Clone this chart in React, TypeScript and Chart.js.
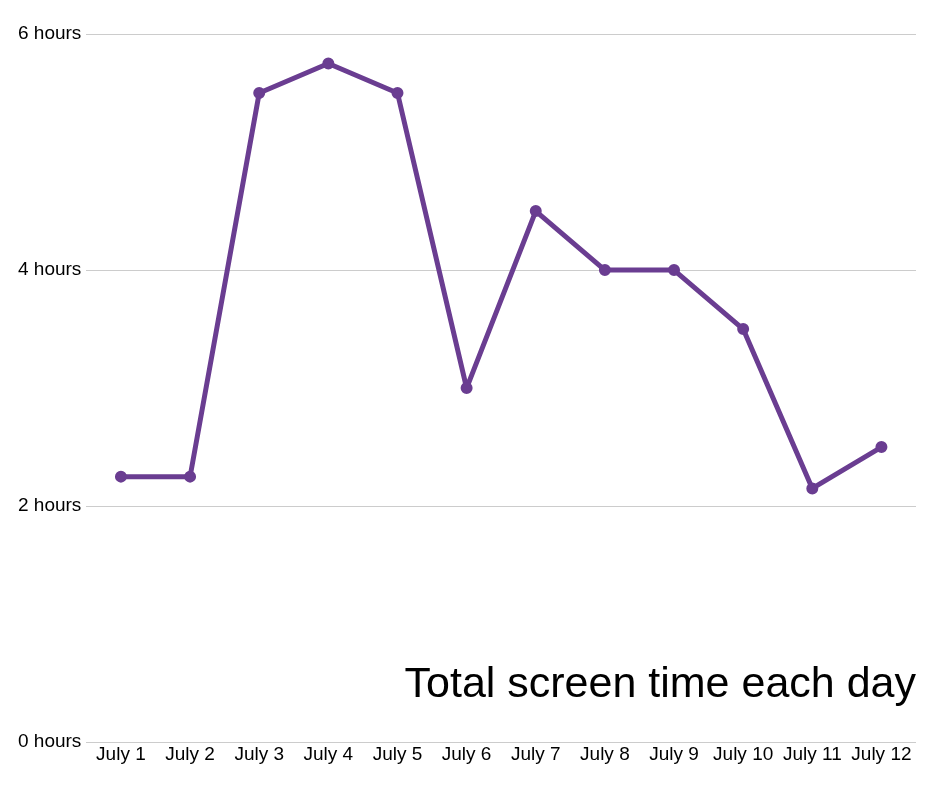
import { useEffect, useRef } from 'react'
import { Chart, registerables } from 'chart.js'

Chart.register(...registerables)

const days = [
  'July 1', 'July 2', 'July 3', 'July 4', 'July 5', 'July 6',
  'July 7', 'July 8', 'July 9', 'July 10', 'July 11', 'July 12',
]
const screenHours = [2.25, 2.25, 5.5, 5.75, 5.5, 3.0, 4.5, 4.0, 4.0, 3.5, 2.15, 2.5]
const hourTicks = [0, 2, 4, 6]
const chartTitle = 'Total screen time each day'

const FONT = '"Liberation Sans", Arial, sans-serif'
const PURPLE = '#6a3d91'

// title sits inside the plot, bottom right
const cornerTitle = {
  id: 'cornerTitle',
  afterDatasetsDraw(chart: Chart) {
    const { ctx, chartArea } = chart
    ctx.save()
    ctx.font = `43px ${FONT}`
    ctx.fillStyle = '#000'
    ctx.textAlign = 'right'
    ctx.textBaseline = 'alphabetic'
    ctx.fillText(chartTitle, chartArea.right, chartArea.bottom - 45)
    ctx.restore()
  },
}

export default function App() {
  const canvasRef = useRef<HTMLCanvasElement>(null)

  useEffect(() => {
    document.body.style.margin = '0'
    if (!canvasRef.current) return
    const chart = new Chart(canvasRef.current, {
      type: 'line',
      data: {
        labels: days,
        datasets: [
          {
            data: screenHours,
            borderColor: PURPLE,
            backgroundColor: PURPLE,
            borderWidth: 5,
            borderJoinStyle: 'round',
            pointRadius: 5,
            pointBorderWidth: 2,
            pointBackgroundColor: PURPLE,
            tension: 0,
          },
        ],
      },
      options: {
        animation: false,
        responsive: false,
        layout: { padding: { top: 34, left: 13, right: 24, bottom: 21 } },
        plugins: {
          legend: { display: false },
          tooltip: { enabled: false },
        },
        scales: {
          x: {
            offset: true,
            grid: { display: false, drawTicks: false },
            border: { display: false },
            ticks: {
              color: '#000',
              font: { family: FONT, size: 19 },
              padding: 1,
              maxRotation: 0,
              autoSkip: false,
            },
          },
          y: {
            min: 0,
            max: 6,
            afterBuildTicks: (axis) => {
              axis.ticks = hourTicks.map((v) => ({ value: v }))
            },
            grid: { color: '#cccccc', lineWidth: 1, drawTicks: false },
            border: { display: false },
            ticks: {
              color: '#000',
              font: { family: FONT, size: 19 },
              padding: 5,
              callback: (v) => `${v} hours`,
            },
          },
        },
      },
      plugins: [cornerTitle],
    })
    return () => chart.destroy()
  }, [])

  return (
    <div style={{ width: 940, height: 788 }}>
      <canvas ref={canvasRef} width={940} height={788} />
    </div>
  )
}
